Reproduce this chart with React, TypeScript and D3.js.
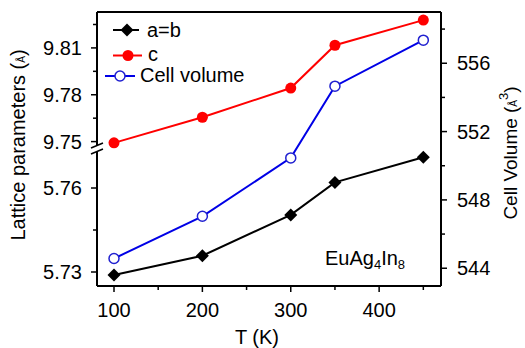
import React from "react";
import * as d3 from "d3";

const temps = [100, 200, 300, 350, 450];
const aValues = [5.7289, 5.7358, 5.7504, 5.762, 5.771];
const cValues = [9.7492, 9.7656, 9.7843, 9.8117, 9.8278];
const volValues = [544.57, 547.04, 550.46, 554.66, 557.35];

const xMajor = [100, 200, 300, 400];
const xMinor = [150, 250, 350, 450];
const topMajor = [9.75, 9.78, 9.81];
const topMinor = [9.765, 9.795, 9.825];
const botMajor = [5.73, 5.76];
const botMinor = [5.745];
const rightMajor = [544, 548, 552, 556];
const rightMinor = [546, 550, 554, 558];

const FONT = "'Liberation Sans', Arial, sans-serif";

export default function App() {
  const L = 97, R = 441, T = 12, B = 286, BRK = 148;
  const x = d3.scaleLinear().domain([80.76, 470]).range([L, R]);
  const yTop = d3.scaleLinear().domain([9.7459, 9.833]).range([BRK, T]);
  const yBot = d3.scaleLinear().domain([5.725, 5.77429]).range([B, BRK]);
  const yR = d3.scaleLinear().domain([542.96, 559]).range([B, T]);

  const lineA = d3.line<number>().x((_, i) => x(temps[i])).y((d) => yBot(d));
  const lineC = d3.line<number>().x((_, i) => x(temps[i])).y((d) => yTop(d));
  const lineV = d3.line<number>().x((_, i) => x(temps[i])).y((d) => yR(d));

  const diamond = (cx: number, cy: number, r: number) =>
    `M${cx},${cy - r}L${cx + r},${cy}L${cx},${cy + r}L${cx - r},${cy}Z`;

  const fmt2 = d3.format(".2f");

  return (
    <svg width={525} height={348} style={{ position: "absolute", left: 0, top: 0, background: "#fff" }} fontFamily={FONT}>
      {/* data lines */}
      <path d={lineA(aValues) || ""} fill="none" stroke="#000" strokeWidth={2} />
      <path d={lineC(cValues) || ""} fill="none" stroke="#ff0000" strokeWidth={2} />
      <path d={lineV(volValues) || ""} fill="none" stroke="#0000e6" strokeWidth={2} />
      {aValues.map((v, i) => (
        <path key={"a" + i} d={diamond(x(temps[i]), yBot(v), 6.5)} fill="#000" />
      ))}
      {cValues.map((v, i) => (
        <circle key={"c" + i} cx={x(temps[i])} cy={yTop(v)} r={5.5} fill="#ff0000" />
      ))}
      {volValues.map((v, i) => (
        <circle key={"v" + i} cx={x(temps[i])} cy={yR(v)} r={5} fill="#fff" stroke="#2020d0" strokeWidth={1.5} />
      ))}

      {/* frame */}
      <line x1={L} y1={T} x2={R} y2={T} stroke="#000" strokeWidth={2} />
      <line x1={R} y1={T} x2={R} y2={B} stroke="#000" strokeWidth={2} />
      <line x1={L} y1={B} x2={R} y2={B} stroke="#000" strokeWidth={2} />
      <line x1={L} y1={T} x2={L} y2={145} stroke="#000" strokeWidth={2} />
      <line x1={L} y1={151} x2={L} y2={B} stroke="#000" strokeWidth={2} />
      {/* break marks */}
      <line x1={91} y1={148} x2={103} y2={143} stroke="#000" strokeWidth={1.5} />
      <line x1={91} y1={154} x2={103} y2={149} stroke="#000" strokeWidth={1.5} />

      {/* x ticks */}
      {xMajor.map((t) => (
        <g key={"xt" + t}>
          <line x1={x(t)} y1={B} x2={x(t)} y2={B + 6} stroke="#000" strokeWidth={1.5} />
          <text x={x(t)} y={317} fontSize={20} textAnchor="middle">{t}</text>
        </g>
      ))}
      {xMinor.map((t) => (
        <line key={"xm" + t} x1={x(t)} y1={B} x2={x(t)} y2={B + 4} stroke="#000" strokeWidth={1.5} />
      ))}
      <text x={257} y={344} fontSize={20} textAnchor="middle">T (K)</text>

      {/* left ticks */}
      {topMajor.map((t) => (
        <g key={"tt" + t}>
          <line x1={L - 6} y1={yTop(t)} x2={L} y2={yTop(t)} stroke="#000" strokeWidth={1.5} />
          <text x={82} y={yTop(t) + 7} fontSize={20} textAnchor="end">{fmt2(t)}</text>
        </g>
      ))}
      {topMinor.map((t) => (
        <line key={"tm" + t} x1={L - 4} y1={yTop(t)} x2={L} y2={yTop(t)} stroke="#000" strokeWidth={1.5} />
      ))}
      {botMajor.map((t) => (
        <g key={"bt" + t}>
          <line x1={L - 6} y1={yBot(t)} x2={L} y2={yBot(t)} stroke="#000" strokeWidth={1.5} />
          <text x={82} y={yBot(t) + 7} fontSize={20} textAnchor="end">{fmt2(t)}</text>
        </g>
      ))}
      {botMinor.map((t) => (
        <line key={"bm" + t} x1={L - 4} y1={yBot(t)} x2={L} y2={yBot(t)} stroke="#000" strokeWidth={1.5} />
      ))}

      {/* right ticks */}
      {rightMajor.map((t) => (
        <g key={"rt" + t}>
          <line x1={R} y1={yR(t)} x2={R + 6} y2={yR(t)} stroke="#000" strokeWidth={1.5} />
          <text x={457} y={yR(t) + 7} fontSize={20} textAnchor="start">{t}</text>
        </g>
      ))}
      {rightMinor.map((t) => (
        <line key={"rm" + t} x1={R} y1={yR(t)} x2={R + 4} y2={yR(t)} stroke="#000" strokeWidth={1.5} />
      ))}

      {/* axis titles */}
      <text transform="translate(25,145) rotate(-90)" fontSize={20} textAnchor="middle">
        Lattice parameters (<tspan fontSize={10}>Å</tspan>)
      </text>
      <text transform="translate(517,153) rotate(-90)" fontSize={19} textAnchor="middle">
        Cell Volume (<tspan fontSize={10}>Å</tspan>
        <tspan fontSize={13} dy={-9}>3</tspan>
        <tspan dy={9}>)</tspan>
      </text>

      {/* legend */}
      <line x1={113} y1={30} x2={139} y2={30} stroke="#000" strokeWidth={2} />
      <path d={diamond(127, 30, 6.5)} fill="#000" />
      <text x={147} y={37} fontSize={20}>a=b</text>
      <line x1={113} y1={55.5} x2={142} y2={55.5} stroke="#ff0000" strokeWidth={2} />
      <circle cx={128} cy={55.5} r={5.5} fill="#ff0000" />
      <text x={148} y={61} fontSize={20}>c</text>
      <line x1={105} y1={76} x2={135} y2={76} stroke="#0000e6" strokeWidth={2} />
      <circle cx={120} cy={76} r={5} fill="#fff" stroke="#2020d0" strokeWidth={1.5} />
      <text x={140} y={82} fontSize={20}>Cell volume</text>

      {/* compound label */}
      <text x={325} y={265} fontSize={20}>
        EuAg<tspan fontSize={13} dy={4}>4</tspan>
        <tspan dy={-4}>In</tspan>
        <tspan fontSize={13} dy={4}>8</tspan>
      </text>
    </svg>
  );
}
